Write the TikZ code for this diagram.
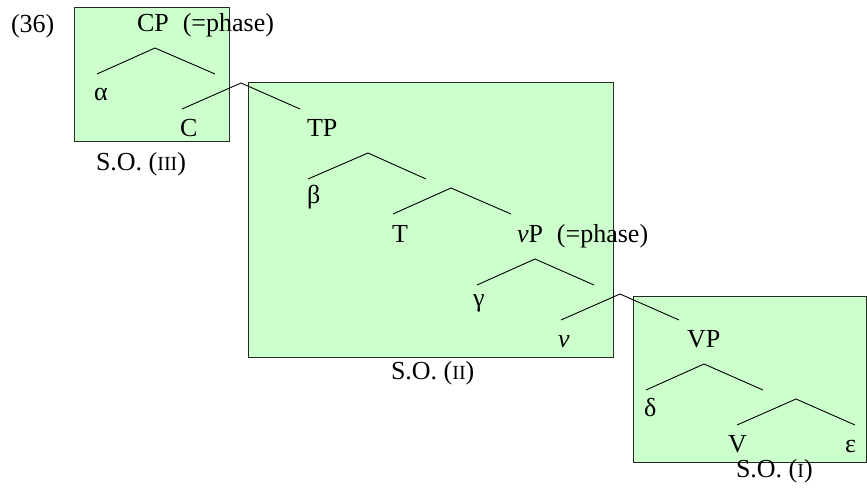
\documentclass[tikz,border=0pt]{standalone}
\usepackage{fontspec}
\setmainfont{Liberation Serif}
\begin{document}
\begin{tikzpicture}[x=1pt,y=-1pt,
  lbl/.style={anchor=base west,inner sep=0pt,outer sep=0pt,font=\fontsize{26}{30}\selectfont},
  sobox/.style={draw=black!85,fill=green!20,line width=0.9pt},
  branch/.style={line width=0.9pt}]
\useasboundingbox (0,0) rectangle (867,495);
\newcommand{\smc}[1]{{\fontsize{20}{22}\selectfont #1}}
% boxes
\draw[sobox] (74,7) rectangle (229,141);
\draw[sobox] (248,82) rectangle (613,357);
\draw[sobox] (633,296) rectangle (866.5,462);
% branch points
\coordinate (cpA) at (155,48);  \coordinate (cpL) at (97,74);  \coordinate (cpR) at (215,74);
\coordinate (cbA) at (241,83);  \coordinate (cbL) at (182,109); \coordinate (cbR) at (300,109);
\coordinate (tpA) at (368,153); \coordinate (tpL) at (308,179); \coordinate (tpR) at (426,179);
\coordinate (tbA) at (451,188); \coordinate (tbL) at (393,214); \coordinate (tbR) at (511,214);
\coordinate (vpA) at (535,259); \coordinate (vpL) at (477,285); \coordinate (vpR) at (594,285);
\coordinate (vbA) at (620,294); \coordinate (vbL) at (561,320); \coordinate (vbR) at (679,320);
\coordinate (VPA) at (704,364); \coordinate (VPL) at (646,390); \coordinate (VPR) at (763,390);
\coordinate (VbA) at (796,399); \coordinate (VbL) at (737,425); \coordinate (VbR) at (855,425);
\draw[branch] (cpL) -- (cpA) -- (cpR);
\draw[branch] (cbL) -- (cbA) -- (cbR);
\draw[branch] (tpL) -- (tpA) -- (tpR);
\draw[branch] (tbL) -- (tbA) -- (tbR);
\draw[branch] (vpL) -- (vpA) -- (vpR);
\draw[branch] (vbL) -- (vbA) -- (vbR);
\draw[branch] (VPL) -- (VPA) -- (VPR);
\draw[branch] (VbL) -- (VbA) -- (VbR);
% labels
\node[lbl] (n36) at (11,33) {(36)};
\node[lbl] (CP) at (137,32) {CP\hspace{14pt}(=phase)};
\node[lbl] (alpha) at (94,100) {α};
\node[lbl] (C) at (180,136) {C};
\node[lbl] (SOiii) at (96,170) {S.O. (\smc{III})};
\node[lbl] (TP) at (307,136) {TP};
\node[lbl] (beta) at (307,203) {β};
\node[lbl] (T) at (392,242) {T};
\node[lbl] (vP) at (517,242) {\textit{v}P\hspace{14pt}(=phase)};
\node[lbl] (gamma) at (473,306) {γ};
\node[lbl] (v) at (558,347) {\textit{v}};
\node[lbl] (SOii) at (391,379) {S.O. (\smc{II})};
\node[lbl] (VP) at (687,347) {VP};
\node[lbl] (delta) at (644,416) {δ};
\node[lbl] (V) at (728,452) {V};
\node[lbl] (eps) at (845,452) {ε};
\node[lbl] (SOi) at (736,477) {S.O. (\smc{I})};
\end{tikzpicture}
\end{document}
